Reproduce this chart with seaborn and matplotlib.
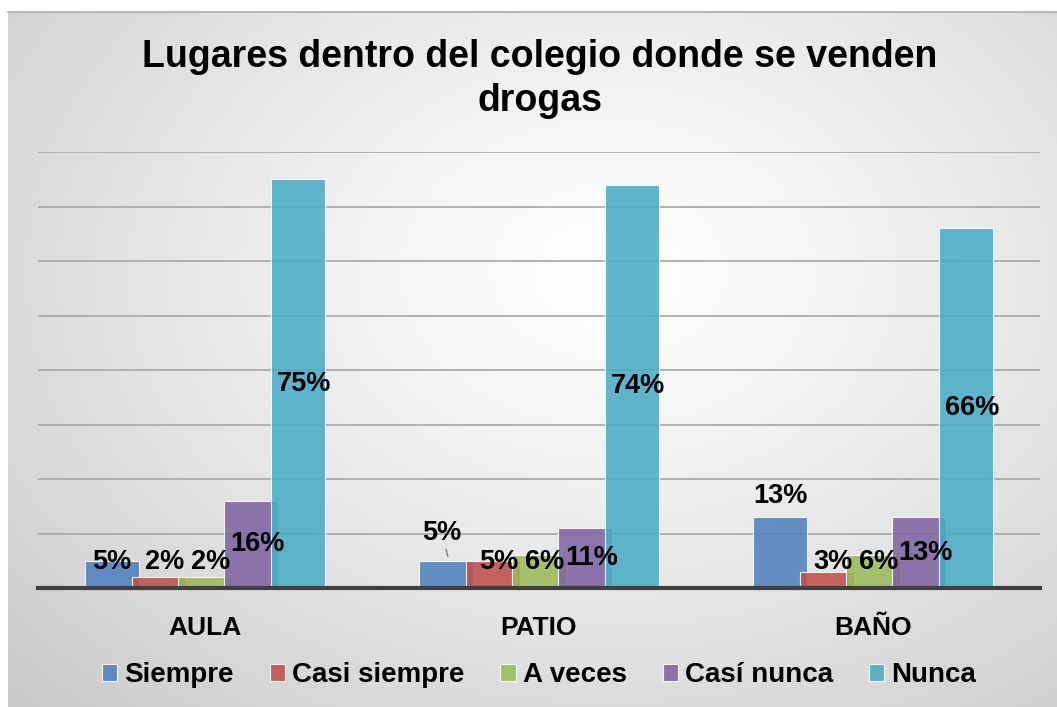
import numpy as np
import pandas as pd
import matplotlib
matplotlib.use("Agg")
import matplotlib.pyplot as plt
import seaborn as sns

lugares = ["AULA", "PATIO", "BAÑO"]
series = ["Siempre", "Casi siempre", "A veces", "Casí nunca", "Nunca"]
siempre = [5, 5, 13]
casi_siempre = [2, 5, 3]
a_veces = [2, 6, 6]
casi_nunca = [16, 11, 13]
nunca = [75, 74, 66]
colores = ["#4f81bd", "#c0504d", "#9bbb59", "#8064a2", "#4bacc6"]

df = pd.DataFrame({
    "Lugar": np.repeat(lugares, len(series)),
    "Frecuencia": series * len(lugares),
    "Valor": np.array([siempre, casi_siempre, a_veces, casi_nunca, nunca]).T.ravel(),
})

sns.set_style("white")
plt.rcParams["font.family"] = ["Liberation Sans", "DejaVu Sans"]
plt.rcParams["text.color"] = "black"
plt.rcParams["xtick.color"] = "black"

W, H = 1057, 707
fig = plt.figure(figsize=(W / 100, H / 100), dpi=100)
fig.patch.set_facecolor("white")

# gradient background like the Excel chart area
bg = fig.add_axes([8 / W, 0, 1 - 8 / W, (H - 12) / H])
yy, xx = np.mgrid[0:695, 0:1049]
r = np.sqrt(((xx - 600) / 760) ** 2 + ((yy - 260) / 560) ** 2)
img = np.ones((695, 1049, 3)) * (1 - 0.19 * np.clip(r, 0, 1.1) ** 1.2)[..., None]
bg.imshow(img, aspect="auto", extent=[0, 1, 0, 1], origin="upper", interpolation="bilinear")
bg.set_axis_off()
bg.plot([0, 1], [1, 1], color="#b8b8b8", lw=1.5, transform=bg.transAxes, clip_on=False)

ax = fig.add_axes([38 / W, (H - 588) / H, 1002 / W, 436 / H])
ax.patch.set_alpha(0)
sns.barplot(data=df, x="Lugar", y="Valor", hue="Frecuencia", order=lugares, hue_order=series,
            palette=colores, width=0.695, errorbar=None, ax=ax, saturation=1, alpha=0.88,
            edgecolor="#ffffff", linewidth=0.8, zorder=3)

for p in ax.patches:
    c = p.get_x() + p.get_width() / 2
    p.set_width(0.162)
    p.set_x(c - 0.081)

ax.set_xlim(-0.5, 2.5)
ax.set_ylim(0, 80)
ax.set_yticks(np.arange(0, 81, 10))
ax.yaxis.grid(True, color="#a6a6a6", lw=1.2, zorder=0)
ax.set_yticklabels([])
ax.tick_params(axis="y", length=0)
ax.tick_params(axis="x", length=0, pad=20)
for s in ["top", "right", "left"]:
    ax.spines[s].set_visible(False)
ax.spines["bottom"].set_color("#404040")
ax.spines["bottom"].set_linewidth(3)
ax.spines["bottom"].set_zorder(5)
ax.set_xlabel("")
ax.set_ylabel("")
for t in ax.get_xticklabels():
    t.set_fontsize(19)
    t.set_fontweight("bold")

# data labels
for j, s in enumerate(series):
    vals = df[df["Frecuencia"] == s]["Valor"].values
    for i, v in enumerate(vals):
        x = i + (j - 2) * 0.139 + (0.018 if j > 0 else 0)
        if s == "Siempre" and lugares[i] == "PATIO":
            ax.annotate(f"{v}%", xy=(x + 0.005, v + 0.8), xytext=(x - 0.012, v + 5.1),
                        ha="center", va="center", fontsize=19.5, fontweight="bold",
                        arrowprops=dict(arrowstyle="-", color="#808080", lw=1, shrinkA=10, shrinkB=0),
                        zorder=6)
            continue
        if s == "Siempre" and lugares[i] == "BAÑO":
            y = v + 3.9
        else:
            y = max(v / 2, 4.8)
        ax.text(x, y, f"{v}%", ha="center", va="center", fontsize=19.5, fontweight="bold", zorder=6)

leg = ax.legend(loc="center", bbox_to_anchor=(0.5, (588 - 675) / 436), ncol=5, frameon=False,
                handlelength=0.55, handleheight=0.55, handletextpad=0.25, columnspacing=1.3,
                prop={"weight": "bold", "size": 20})

fig.text(540 / W, 1 - 57 / H, "Lugares dentro del colegio donde se venden", ha="center", va="center",
         fontsize=27, fontweight="bold")
fig.text(540 / W, 1 - 101 / H, "drogas", ha="center", va="center", fontsize=27, fontweight="bold")

fig.savefig("out.png", dpi=100)
